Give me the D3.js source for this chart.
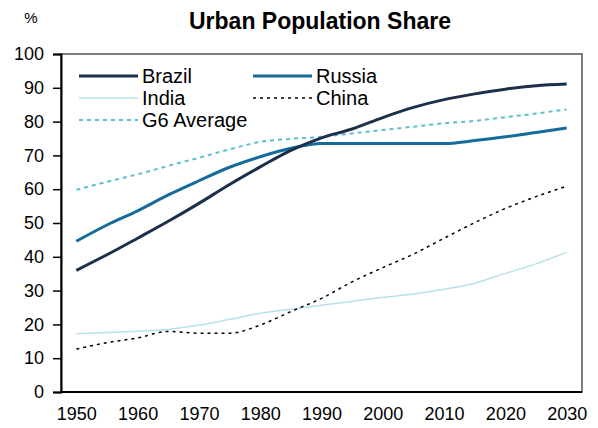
<!DOCTYPE html>
<html><head><meta charset="utf-8">
<script src="https://cdn.jsdelivr.net/npm/d3@7"></script>
<style>
body{margin:0;background:#fff;}
text{font-family:"Liberation Sans",Arial,sans-serif;fill:#000;}
</style></head>
<body>
<svg id="chart" width="598" height="428"></svg>
<script>
const years = [1950,1955,1960,1965,1970,1975,1980,1985,1990,1995,2000,2005,2010,2015,2020,2025,2030];
const brazil = [36.0,40.6,45.5,50.5,55.8,61.4,66.6,71.5,75.2,77.8,81.2,84.2,86.5,88.2,89.6,90.6,91.1];
const russia = [44.6,49.4,53.6,58.3,62.5,66.5,69.6,72.1,73.5,73.5,73.5,73.5,73.5,74.4,75.5,76.8,78.1];
const india  = [17.2,17.6,18.0,18.5,19.8,21.5,23.3,24.5,25.7,26.8,28.0,29.0,30.4,32.2,35.1,37.9,41.4];
const china  = [12.7,14.6,16.0,17.9,17.4,17.4,19.8,23.8,27.7,32.6,36.8,40.8,45.5,50.1,54.3,57.8,60.9];
const g6avg  = [59.8,62.2,64.4,66.9,69.3,71.8,74.0,74.9,75.5,76.5,77.5,78.5,79.5,80.2,81.3,82.4,83.6];
const yTicks = [0,10,20,30,40,50,60,70,80,90,100];
const xTickYears = [1950,1960,1970,1980,1990,2000,2010,2020,2030];
const seriesNames = ["Brazil","Russia","India","China","G6 Average"];

const svg = d3.select("#chart");
const L = 61, R = 582, T = 54, B = 392;

const x = d3.scalePoint().domain(years).range([L, R]).padding(0.5);
const y = d3.scaleLinear().domain([0,100]).range([B, T]);

const styles = {
  "Brazil":     {color:"#1d2f4b", width:3,   dash:null},
  "Russia":     {color:"#156b99", width:3,   dash:null},
  "India":      {color:"#b8e1ea", width:1.5, dash:null},
  "China":      {color:"#000000", width:1.5, dash:"3,4"},
  "G6 Average": {color:"#5dbdd2", width:2,   dash:"4,4"}
};
const seriesData = {"Brazil":brazil,"Russia":russia,"India":india,"China":china,"G6 Average":g6avg};

// title
svg.append("text").attr("x", 320).attr("y", 29).attr("text-anchor","middle")
  .style("font-weight","bold").style("font-size","23px").text("Urban Population Share");
svg.append("text").attr("x", 31).attr("y", 23).attr("text-anchor","middle")
  .style("font-size","15px").text("%");

// frame (top/right)
svg.append("rect").attr("x", L).attr("y", T).attr("width", R-L).attr("height", B-T)
  .attr("fill","none").attr("stroke","#555").attr("stroke-width",1.5);

// y axis
const yAxis = d3.axisLeft(y).tickValues(yTicks).tickSize(8).tickPadding(9);
const gy = svg.append("g").attr("transform",`translate(${L},0)`).call(yAxis);
gy.select(".domain").attr("stroke","#000").attr("stroke-width",2);
gy.selectAll(".tick line").attr("stroke","#000").attr("stroke-width",1.5);
gy.selectAll(".tick text").style("font-size","18px").style("font-family","'Liberation Sans',Arial,sans-serif");

// x axis
const xAxis = d3.axisBottom(x).tickValues(xTickYears).tickSize(0).tickPadding(15);
const gx = svg.append("g").attr("transform",`translate(0,${B})`).call(xAxis);
gx.select(".domain").attr("d",`M${L},0H${R}`).attr("stroke","#000").attr("stroke-width",2);
gx.selectAll(".tick text").style("font-size","18px").style("font-family","'Liberation Sans',Arial,sans-serif");

// lines
const line = d3.line().x((d,i)=>x(years[i])).y(d=>y(d)).curve(d3.curveMonotoneX);
["G6 Average","India","China","Russia","Brazil"].forEach(name=>{
  const s = styles[name];
  svg.append("path").datum(seriesData[name]).attr("d", line)
    .attr("fill","none").attr("stroke", s.color).attr("stroke-width", s.width)
    .attr("stroke-dasharray", s.dash).attr("stroke-linejoin","round");
});

// legend
const legendPos = {
  "Brazil":[79,76], "Russia":[253,76], "India":[79,98], "China":[253,98], "G6 Average":[79,120]
};
seriesNames.forEach(name=>{
  const [lx, ly] = legendPos[name];
  const s = styles[name];
  svg.append("line").attr("x1",lx).attr("x2",lx+59).attr("y1",ly).attr("y2",ly)
    .attr("stroke",s.color).attr("stroke-width",s.width).attr("stroke-dasharray",s.dash);
  svg.append("text").attr("x",lx+63).attr("y",ly).attr("dy","0.35em")
    .style("font-size","20px").text(name);
});
</script>
</body></html>
